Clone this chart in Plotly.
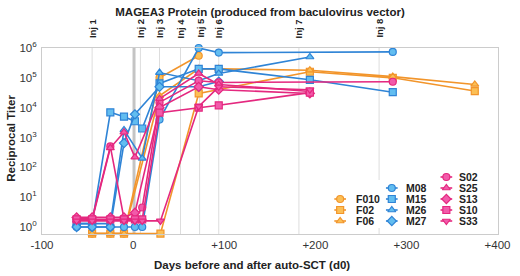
import plotly.graph_objects as go

# ---------------- data ----------------
series_names = ["F010", "F02", "F06", "M08", "M15", "M26", "M27",
                "S02", "S25", "S13", "S10", "S33"]
series_days = {
    "F010": [-45, -25, -10, 29, 72],
    "F02":  [-45, -25, -10, 30, 72, 194, 285, 375],
    "F06":  [-45, -25, -10, 29, 72, 94, 194, 285, 375],
    "M08":  [-62, -45, -25, -10, 2, 10, 29, 72, 94, 285],
    "M15":  [-62, -45, -25, -10, 2, 10, 29, 72, 94, 194, 285],
    "M26":  [-62, -45, -25, -10, 10, 29, 72, 94, 194],
    "M27":  [-62, -45, -25, -10, 2, 29, 72, 94],
    "S02":  [-62, -45, -25, -10, 2, 10, 29, 72, 94, 285],
    "S25":  [-62, -45, -25, -10, 2, 29, 72, 94, 194],
    "S13":  [-62, -45, -25, -10, 2, 29, 72, 94, 194],
    "S10":  [-62, -45, -25, -10, 2, 10, 29, 72, 94, 194],
    "S33":  [-62, -45, -25, -10, 2, 10, 30, 72, 94, 194],
}
series_titers = {
    "F010": [0.6, 0.6, 0.6, 1.0e5, 5.5e5],
    "F02":  [0.6, 0.6, 0.6, 0.6, 3.0e4, 1.6e5, 1.0e5, 3.6e4],
    "F06":  [0.6, 0.6, 0.6, 2.5e4, 2.0e5, 2.0e5, 1.8e5, 1.1e5, 6.0e4],
    "M08":  [1.0, 1.0, 1.0, 1.0, 1.0, 1.0, 4.0e3, 1.0e6, 7.0e5, 7.4e5],
    "M15":  [1.3, 1.3, 7.0e3, 5.0e3, 3.5e3, 2.0e3, 6.5e4, 2.0e5, 2.0e5, 8.6e4, 3.3e4],
    "M26":  [1.3, 1.3, 1.3, 1.8e3, 2.0e2, 1.5e5, 8.0e4, 1.4e5, 5.0e5],
    "M27":  [1.0, 1.0, 1.0, 6.5e2, 6.0e3, 5.0e4, 5.0e4, 7.5e4],
    "S02":  [1.9, 1.9, 5.0e2, 1.9, 1.9, 4.5, 1.5e4, 8.0e4, 7.0e4, 7.4e4],
    "S25":  [1.7, 1.7, 4.5e2, 1.5e3, 2.2e2, 2.0e4, 1.4e5, 6.0e4, 3.5e4],
    "S13":  [2.1, 2.1, 2.1, 2.1, 3.0, 1.0e4, 5.0e4, 4.0e4, 3.0e4],
    "S10":  [1.8, 1.8, 1.8, 1.8, 1.8, 1.8, 6.8e3, 1.0e4, 1.2e4, 3.2e4],
    "S33":  [1.6, 1.6, 1.6, 1.6, 1.6, 1.6, 1.6, 1.1e4, 5.0e4, 4.0e4],
}
series_symbols = {
    "F010": "circle", "F02": "square", "F06": "triangle-up",
    "M08": "circle", "M15": "square", "M26": "triangle-up", "M27": "diamond",
    "S02": "circle", "S25": "triangle-up", "S13": "diamond", "S10": "square",
    "S33": "triangle-down",
}
group_of = {n: n[0] for n in series_names}

inj_labels = ["Inj 1", "Inj 2", "Inj 3", "Inj 4", "Inj 5", "Inj 6", "Inj 7", "Inj 8"]
inj_days = [-45, 8, 29, 52, 73, 94, 182, 270]
transplant_day = [1]

x_tickvals = [-100, 0, 100, 200, 300, 400]
x_ticktext = ["-100", "0", "+100", "+200", "+300", "+400"]
y_tickvals = [1, 10, 100, 1e3, 1e4, 1e5, 1e6]
y_ticktext = ["10<sup>%d</sup>" % i for i in range(7)]

# legend columns (by group)
legend_cols = [["F010", "F02", "F06"],
               ["M08", "M15", "M26", "M27"],
               ["S02", "S25", "S13", "S10", "S33"]]

# ---------------- style ----------------
line_color = {"F": "#F2952B", "M": "#2F84D6", "S": "#E4287F"}
fill_color = {"F": "#FBBF55", "M": "#62BDF0", "S": "#F25AAA"}
FONT = "Arial, Liberation Sans, Helvetica, sans-serif"

fig = go.Figure()

for n in series_names:
    g = group_of[n]
    fig.add_trace(go.Scatter(
        x=series_days[n], y=series_titers[n], mode="lines+markers", name=n,
        line=dict(color=line_color[g], width=1.6),
        marker=dict(symbol=series_symbols[n], size=7, color=fill_color[g],
                    line=dict(color=line_color[g], width=1.2)),
        cliponaxis=False, showlegend=False))

# plot geometry (px)
W, H = 520, 276
L, R, T, B = 42, 10, 48, 42
pw, ph = W - L - R, H - T - B


def px_x(p):
    return (p - L) / pw


def px_y(p):
    return (H - B - p) / ph


shapes = []
for d in inj_days:
    shapes.append(dict(type="line", xref="x", yref="paper", x0=d, x1=d, y0=0, y1=1,
                       line=dict(color="#DDDDDD", width=1), layer="below"))
for d in transplant_day:
    shapes.append(dict(type="line", xref="x", yref="paper", x0=d, x1=d, y0=0, y1=1,
                       line=dict(color="#C4C4C4", width=3), layer="below"))

# legend boxes (white) covering gridlines
col_marker_px = [348, 401, 457]
col_text_px = [362, 414, 468]
col_box = [(338, 386, 192), (386, 445, 180), (445, 494, 170)]
row_px = [221, 210, 199, 188, 177]
for (x0, x1, ytop) in col_box:
    shapes.append(dict(type="rect", xref="paper", yref="paper",
                       x0=px_x(x0), x1=px_x(x1), y0=px_y(228), y1=px_y(ytop),
                       fillcolor="white", line=dict(width=0), layer="below"))

annotations = []
for ci, col in enumerate(legend_cols):
    nrow = len(col)
    for ri, n in enumerate(col):
        ypx = row_px[nrow - 1 - ri]
        g = group_of[n]
        mx = px_x(col_marker_px[ci])
        dx = 6 / pw
        fig.add_trace(go.Scatter(
            x=[mx - dx, mx, mx + dx], y=[px_y(ypx)] * 3, mode="lines+markers",
            xaxis="x2", yaxis="y2", showlegend=False, hoverinfo="skip",
            line=dict(color=line_color[g], width=1.6),
            marker=dict(symbol=series_symbols[n], size=7, color=fill_color[g],
                        opacity=[0, 1, 0],
                        line=dict(color=line_color[g], width=1.2)),
            cliponaxis=False))
        annotations.append(dict(xref="paper", yref="paper", x=px_x(col_text_px[ci]),
                                y=px_y(ypx), xanchor="left", yanchor="middle",
                                text="<b>%s</b>" % n, showarrow=False,
                                font=dict(family=FONT, size=10.5, color="#222222")))

for lab, d in zip(inj_labels, inj_days):
    annotations.append(dict(xref="x", yref="paper", x=d, y=1, yshift=8,
                            xanchor="center", yanchor="bottom", textangle=-90,
                            text="<b>%s</b>" % lab, showarrow=False,
                            font=dict(family=FONT, size=9.5, color="#222222")))

annotations.append(dict(xref="paper", yref="paper", x=px_x(258), y=px_y(265),
                        xanchor="center", yanchor="middle", showarrow=False,
                        text="<b>Days before and after auto-SCT (d0)</b>",
                        font=dict(family=FONT, size=11.5, color="#222222")))
annotations.append(dict(xref="paper", yref="paper", x=px_x(10), y=px_y(138),
                        xanchor="center", yanchor="middle", showarrow=False,
                        textangle=-90, text="<b>Reciprocal Titer</b>",
                        font=dict(family=FONT, size=11.5, color="#222222")))

fig.update_layout(
    width=W, height=H,
    margin=dict(l=L, r=R, t=T, b=B),
    paper_bgcolor="white", plot_bgcolor="white",
    title=dict(text="<b>MAGEA3 Protein (produced from baculovirus vector)</b>",
               x=0.5, xref="container", xanchor="center",
               y=1 - 12 / H, yref="container", yanchor="middle",
               font=dict(family=FONT, size=11.5, color="#222222")),
    xaxis=dict(range=[-100, 400.5], tickvals=x_tickvals, ticktext=x_ticktext,
               showgrid=False, zeroline=False, showline=True, mirror=True,
               linecolor="#CCCCCC", linewidth=1, ticks="",
               ticklabeloverflow="allow",
               tickfont=dict(family=FONT, size=11.5, color="#333333")),
    yaxis=dict(type="log", range=[-0.235, 6.0], tickvals=y_tickvals,
               ticktext=y_ticktext, showgrid=False, zeroline=False,
               showline=True, mirror=True, linecolor="#CCCCCC", linewidth=1,
               ticks="", ticklabelstandoff=2, ticklabeloverflow="allow",
               tickfont=dict(family=FONT, size=11.5, color="#333333")),
    xaxis2=dict(overlaying="x", range=[0, 1], visible=False, anchor="y2"),
    yaxis2=dict(overlaying="y", range=[0, 1], visible=False, anchor="x2"),
    shapes=shapes, annotations=annotations, showlegend=False,
)

fig.write_html("out.html",
               config={"displayModeBar": False},
               post_script="document.body.style.margin='0px';"
                           "document.body.style.padding='0px';")
